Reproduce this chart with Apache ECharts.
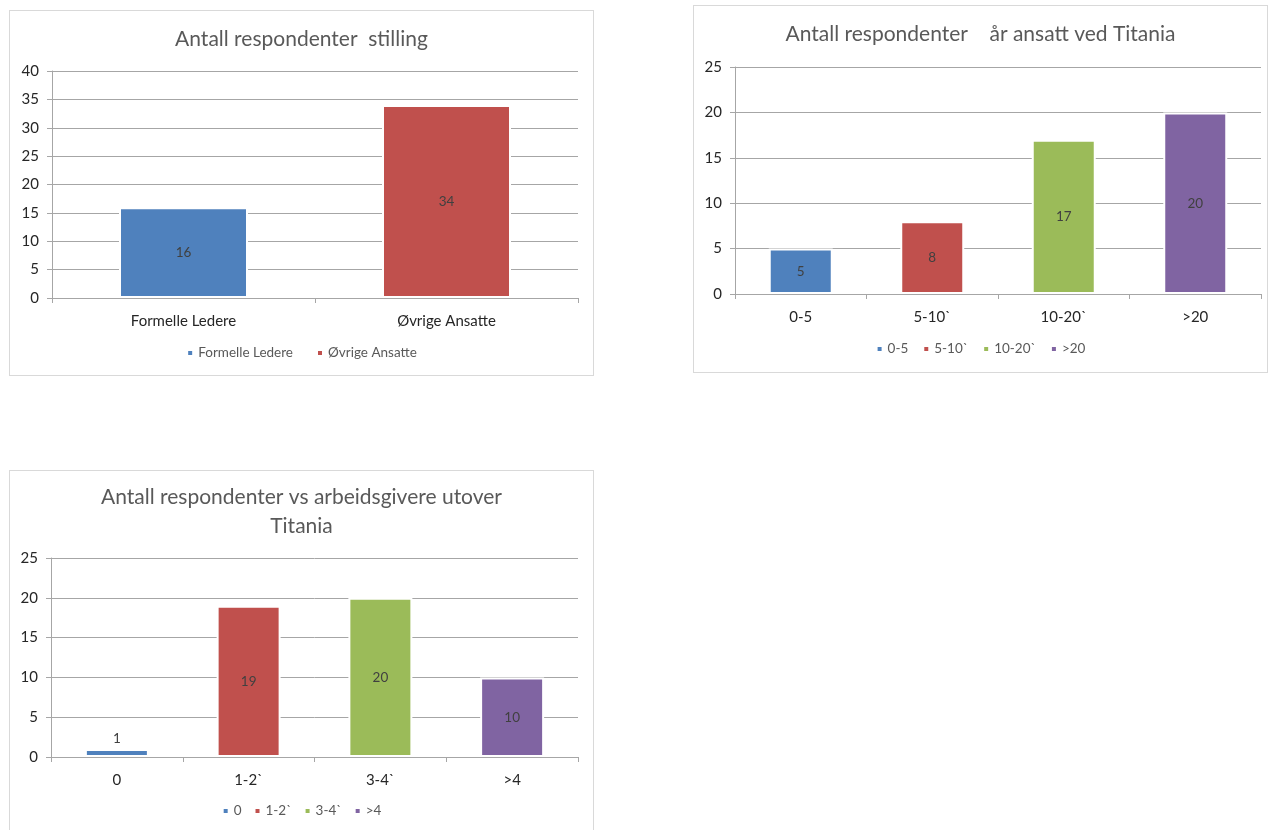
<!DOCTYPE html>
<html>
<head>
<meta charset="utf-8">
<script src="https://cdn.jsdelivr.net/npm/echarts@6/dist/echarts.min.js"></script>
<style>
  html, body { margin: 0; padding: 0; background: #fff; overflow: hidden; }
  .box { position: absolute; border: 1px solid #d9d9d9; box-sizing: border-box; background: #fff; }
</style>
</head>
<body>
<div id="c1" class="box" style="left:9px; top:10px; width:585px; height:366px;"></div>
<div id="c2" class="box" style="left:693px; top:5px; width:575px; height:368px;"></div>
<div id="c3" class="box" style="left:9px; top:470px; width:585px; height:363px;"></div>
<script>
// Chart 1: respondents by position
const stillingKategorier = ['Formelle Ledere', 'Øvrige Ansatte'];
const stillingVerdier = [16, 34];
const stillingTicks = ['0', '5', '10', '15', '20', '25', '30', '35', '40'];

// Chart 2: respondents by years employed at Titania
const aarKategorier = ['0-5', '5-10`', '10-20`', '>20'];
const aarVerdier = [5, 8, 17, 20];
const aarTicks = ['0', '5', '10', '15', '20', '25'];

// Chart 3: respondents by number of employers besides Titania
const arbeidsgiverKategorier = ['0', '1-2`', '3-4`', '>4'];
const arbeidsgiverVerdier = [1, 19, 20, 10];
const arbeidsgiverTicks = ['0', '5', '10', '15', '20', '25'];

const farger = ['#4f81bd', '#c0504d', '#9bbb59', '#8064a2'];
const fontFamily = 'Lato, "Open Sans", sans-serif';

function tegn(id, tittel, kategorier, verdier, ticks, layout) {
  const chart = echarts.init(document.getElementById(id), null, { renderer: 'canvas' });
  const maks = Number(ticks[ticks.length - 1]);
  const steg = Number(ticks[1]) - Number(ticks[0]);
  const serier = kategorier.map((navn, i) => ({
    name: navn,
    type: 'bar',
    stack: 'alle',
    barWidth: layout.barWidth,
    data: kategorier.map((_, j) => (j === i ? verdier[i] : '-')),
    itemStyle: { color: farger[i], borderColor: '#ffffff', borderWidth: 2 },
    label: {
      show: true,
      position: verdier[i] / maks < 0.08 ? 'top' : 'inside',
      distance: 3,
      color: '#404040',
      fontSize: 13.5,
      fontFamily: fontFamily
    }
  }));
  chart.setOption({
    animation: false,
    textStyle: { fontFamily: fontFamily },
    title: {
      text: tittel,
      left: 'center',
      top: layout.titleTop,
      textStyle: {
        fontSize: 21,
        fontWeight: 'normal',
        color: '#595959',
        fontFamily: fontFamily,
        lineHeight: 29
      }
    },
    legend: {
      data: kategorier,
      bottom: layout.legendBottom,
      left: 'center',
      icon: 'rect',
      itemWidth: 6,
      itemHeight: 6,
      itemGap: layout.legendGap,
      textStyle: { color: '#595959', fontSize: 13.5, fontFamily: fontFamily }
    },
    grid: {
      left: layout.left,
      right: layout.right,
      top: layout.top,
      bottom: layout.bottom,
      containLabel: false
    },
    xAxis: {
      type: 'category',
      data: kategorier,
      boundaryGap: true,
      axisLine: { show: true, lineStyle: { color: '#a6a6a6', width: 1 } },
      axisTick: { show: true, length: 5, alignWithLabel: false, lineStyle: { color: '#a6a6a6' } },
      axisLabel: { color: '#262626', fontSize: 15, margin: 16, fontFamily: fontFamily },
      splitLine: { show: false }
    },
    yAxis: {
      type: 'value',
      min: 0,
      max: maks,
      interval: steg,
      axisLine: { show: true, lineStyle: { color: '#a6a6a6', width: 1 } },
      axisTick: { show: true, length: 5, lineStyle: { color: '#a6a6a6' } },
      axisLabel: {
        color: '#262626',
        fontSize: 15,
        margin: 13,
        fontFamily: fontFamily,
        formatter: (v) => ticks[Math.round(v / steg)]
      },
      splitLine: { show: true, lineStyle: { color: '#a6a6a6', width: 1 } }
    },
    series: serier
  });
}

tegn('c1', 'Antall respondenter  stilling',
  stillingKategorier, stillingVerdier, stillingTicks,
  { left: 42, right: 15, top: 60, bottom: 77, titleTop: 9, legendBottom: 10, legendGap: 23, barWidth: 129 });

tegn('c2', 'Antall respondenter    år ansatt ved Titania',
  aarKategorier, aarVerdier, aarTicks,
  { left: 41, right: 6, top: 61, bottom: 78, titleTop: 9, legendBottom: 11, legendGap: 14, barWidth: 64 });

tegn('c3', 'Antall respondenter vs arbeidsgivere utover\nTitania',
  arbeidsgiverKategorier, arbeidsgiverVerdier, arbeidsgiverTicks,
  { left: 41, right: 15, top: 87, bottom: 75, titleTop: 7, legendBottom: 9, legendGap: 12, barWidth: 64 });
</script>
</body>
</html>
